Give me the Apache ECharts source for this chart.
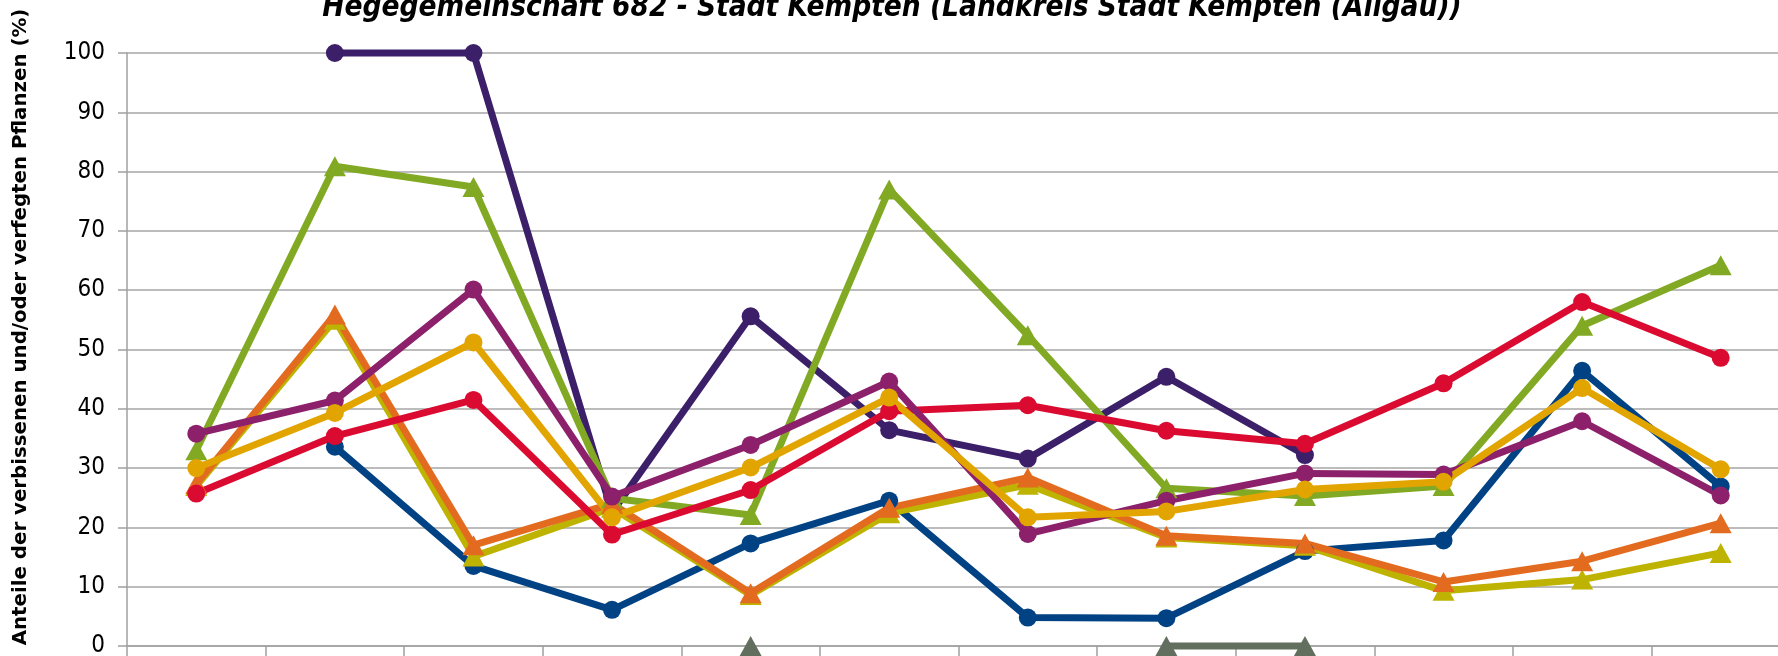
<!DOCTYPE html>
<html>
<head>
<meta charset="utf-8">
<script src="https://cdn.jsdelivr.net/npm/echarts@6/dist/echarts.min.js"></script>
<style>
html,body{margin:0;padding:0;background:#fff;}
#main{width:1778px;height:656px;}
</style>
</head>
<body>
<div id="main"></div>
<script>
// Aufnahmejahre (Achsenbeschriftung liegt ausserhalb des Bildes)
var years = ['1991','1994','1997','2000','2003','2006','2009','2012','2015','2018','2021','2024'];
var yTicks = [0,10,20,30,40,50,60,70,80,90,100];

// Werte in Prozent, null = keine Aufnahme
var sPurple  = [null, 100, 100, 22.5, 55.6, 36.4, 31.6, 45.4, 32.2, null, null, null];
var sBlue    = [null, 33.6, 13.5, 6.1, 17.3, 24.5, 4.8, 4.7, 16.0, 17.8, 46.4, 26.9];
var sGreen   = [33.0, 80.9, 77.4, 24.9, 22.1, 77.0, 52.4, 26.6, 25.3, 27.0, 54.0, 64.2];
var sOlive   = [27.0, 55.0, 15.1, 23.3, 8.6, 22.4, 27.2, 18.3, 16.9, 9.3, 11.2, 15.7];
var sOrange  = [27.3, 55.9, 17.0, 24.0, 8.9, 23.3, 28.4, 18.6, 17.3, 10.8, 14.3, 20.7];
var sRed     = [25.7, 35.4, 41.5, 18.8, 26.3, 39.6, 40.6, 36.3, 34.1, 44.3, 58.0, 48.6];
var sMagenta = [35.8, 41.4, 60.1, 25.2, 33.9, 44.6, 18.9, 24.5, 29.1, 28.9, 37.9, 25.4];
var sGold    = [30.0, 39.3, 51.2, 21.7, 30.1, 41.9, 21.7, 22.7, 26.4, 27.7, 43.5, 29.8];
var sGray    = [null, null, null, null, 0, null, null, 0, 0, null, null, null];

var yName = 'Anteile der verbissenen und/oder verfegten Pflanzen (%)';

var chart = echarts.init(document.getElementById('main'));

function mkSeries(name, data, color, symbol){
    var tri = symbol == 'triangle';
    return {
        name: name,
        type: 'line',
        data: data,
        symbol: symbol,
        symbolSize: tri ? [22,20] : 18,
        showSymbol: true,
        clip: false,
        lineStyle: {width: 7, color: color},
        itemStyle: {color: color, borderWidth: 0},
        emphasis: {disabled: true},
        animation: false
    };
}

chart.setOption({
    backgroundColor: '#fff',
    title: {
        text: 'Hegegemeinschaft 682 - Stadt Kempten (Landkreis Stadt Kempten (Allgäu))',
        left: 887,
        textAlign: 'center',
        top: -12,
        textStyle: {
            fontFamily: '"Liberation Sans Narrow","DejaVu Sans Condensed",sans-serif',
            fontStyle: 'italic',
            fontWeight: 'bold',
            fontSize: 29.5,
            color: '#000'
        }
    },
    //y-Achsentitel als eigener Text, damit er wie im Original nach oben verschoben ist
    graphic: [{
        type: 'text',
        x: 21,
        y: 327,
        rotation: Math.PI / 2,
        style: {
            text: yName,
            fill: '#000',
            font: 'bold 19.8px "DejaVu Sans", sans-serif',
            align: 'center',
            verticalAlign: 'middle'
        }
    }],
    grid: {left: 127, top: 53, width: 1663, height: 593, containLabel: false, outerBoundsMode: 'none'},
    xAxis: {
        type: 'category',
        data: years,
        boundaryGap: true,
        axisLine: {lineStyle: {color: '#A0A0A0', width: 1.5}},
        axisTick: {show: true, length: 10, alignWithLabel: false, lineStyle: {color: '#A0A0A0', width: 1.5}},
        axisLabel: {show: false},
        splitLine: {show: false}
    },
    yAxis: {
        type: 'value',
        min: yTicks[0],
        max: yTicks[yTicks.length - 1],
        interval: 10,
        axisLine: {show: true, lineStyle: {color: '#A0A0A0', width: 1.5}},
        axisTick: {show: true, length: 9, lineStyle: {color: '#A0A0A0', width: 1.5}},
        axisLabel: {
            margin: 22,
            fontFamily: '"Liberation Sans Narrow","DejaVu Sans Condensed",sans-serif',
            fontSize: 24,
            color: '#000'
        },
        splitLine: {lineStyle: {color: '#A6A6A6', width: 1.5}}
    },
    series: [
        mkSeries('purple', sPurple, '#3C1F69', 'circle'),
        mkSeries('blue', sBlue, '#004283', 'circle'),
        mkSeries('green', sGreen, '#82A923', 'triangle'),
        mkSeries('olive', sOlive, '#BDB300', 'triangle'),
        mkSeries('orange', sOrange, '#E36B1F', 'triangle'),
        mkSeries('red', sRed, '#DB0A30', 'circle'),
        mkSeries('magenta', sMagenta, '#8C206A', 'circle'),
        mkSeries('gold', sGold, '#E2A500', 'circle'),
        mkSeries('gray', sGray, '#636F5E', 'triangle')
    ]
});
</script>
</body>
</html>
